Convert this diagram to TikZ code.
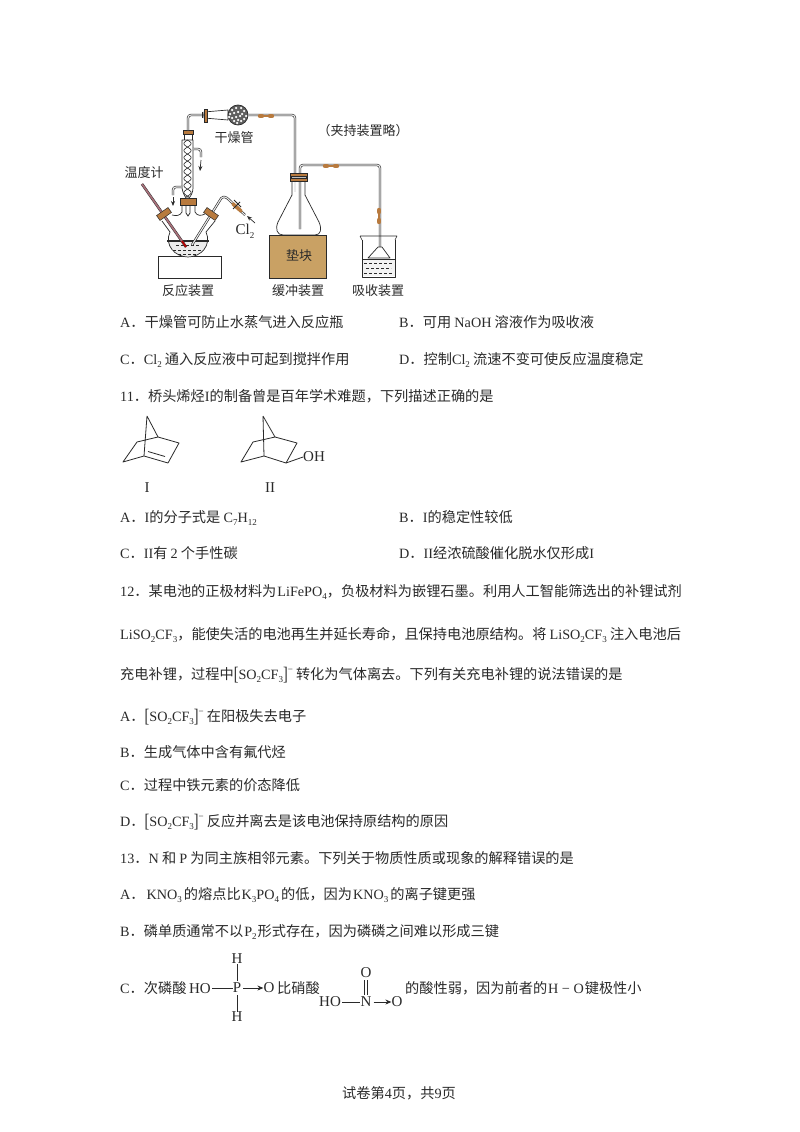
\documentclass[tikz,border=0pt]{standalone}
\usepackage{fontspec}
\setmainfont{Noto Sans CJK SC}
\newfontfamily\latf{Liberation Serif}
\newcommand{\lt}[1]{{\latf #1}}
\newcommand{\dn}[1]{\raisebox{-0.25em}{\fontsize{9}{9}\selectfont\latf #1}}
\newcommand{\upm}{\raisebox{0.45em}{\fontsize{9}{9}\selectfont\latf −}}
\newcommand{\sof}{{\latf \raisebox{-0.1em}{\scalebox{1}[1.35]{[}}SO\dn{2}CF\dn{3}\raisebox{-0.1em}{\scalebox{1}[1.35]{]}}}\upm}
\definecolor{ink}{HTML}{2A2A2A}
\definecolor{rubber}{HTML}{B87A3E}
\definecolor{blockc}{HTML}{C9A164}
\definecolor{thermo}{HTML}{A8707A}
\tikzset{
 x=1pt,y=-1pt,
 line/.style={anchor=base west,inner sep=0pt,font=\fontsize{14.2}{15}\selectfont,text=ink},
 lab/.style={anchor=center,inner sep=0pt,font=\fontsize{13}{14}\selectfont,text=ink},
 atom/.style={anchor=center,inner sep=0pt,font=\fontsize{15}{15}\selectfont\latf,text=ink},
 glass/.style={draw=ink,line width=0.7pt,line join=round},
 bond/.style={draw=ink,line width=0.8pt},
 tubeo/.style={draw=ink,line width=2.3pt,rounded corners=3pt},
 tubei/.style={draw=white!92!black,line width=1.1pt,rounded corners=3pt},
 rub/.style={draw=rubber,line width=4.4pt,line cap=round},
 stopper/.style={fill=rubber,draw=ink,line width=0.5pt},
 flowarrow/.style={draw=ink,line width=0.7pt,-{Stealth[length=5pt,width=4pt]}},
 datv/.style={draw=ink,line width=0.9pt,-{Stealth[length=6pt,width=5pt]}},
}
\usetikzlibrary{arrows.meta}
\begin{document}
\begin{tikzpicture}
\useasboundingbox[fill=white] (0,0) rectangle (800,1132);

% ---------- reaction flask ----------
\draw[bond] (158,256) rectangle (221,278);
\fill[gray!15] (168,241) -- (208,241) .. controls (205,250) and (198,257) .. (188,257) .. controls (178,257) and (171,250) .. (168,241) -- cycle;
\draw[glass] (182,203) -- (182,212) .. controls (180,216) and (176,216) .. (172,215)
  (162,221) -- (170,232)
  .. controls (164,245) and (175,257) .. (188,257)
  .. controls (201,257) and (212,245) .. (206,232)
  -- (215,221) (205,214) .. controls (201,216) and (197,216) .. (195,212) -- (195,203);
\draw[ink,line width=1.1pt] (167,241) -- (209,241);
\foreach \yy/\s in {245/3,250/0,254/5}{\draw[ink,line width=0.5pt,dash pattern=on 3pt off 2pt] (173+\s,\yy) -- (203-\s,\yy);}
% thermometer
\draw[draw=ink,line width=2.6pt] (142,184) -- (186,247);
\draw[draw=thermo,line width=1.7pt] (142,184) -- (186,247);
\draw[draw=red!70!black,line width=1.7pt] (182,241) -- (186,247);
\draw[stopper,rotate around={35:(164,214)}] (157,211) rectangle (171,217);
% center stopper and condenser tip
\draw[stopper] (180,198) rectangle (196,205);
\draw[ink,line width=0.7pt] (186,205) -- (186,213) -- (188,216) -- (190,213) -- (190,205);
% right neck tube
\draw[tubeo,rounded corners=1.5pt] (192,245) -- (222,197) -- (226,197) -- (245,215);
\draw[tubei,rounded corners=1.5pt] (192,245) -- (222,197) -- (226,197) -- (245,215);
\draw[stopper,rotate around={-35:(211,214)}] (204,211) rectangle (218,217);
\draw[rub,line width=3.6pt] (233,204) -- (241,211);
\draw[ink,line width=0.8pt] (234,200) -- (241,207) (233,209) -- (240,202);
\draw[flowarrow] (255,223) -- (247,216);

% ---------- condenser ----------
\draw[glass,fill=white] (182,140) -- (182,188) .. controls (183,194) and (185,196) .. (186,198) -- (189,198) .. controls (191,196) and (193,192) .. (193,188) -- (193,140) -- cycle;
\draw[ink,line width=0.6pt,samples=90,domain=140:197,smooth] plot ({187.5+3.6*sin(\x*25.7)},\x);
\draw[ink,line width=0.6pt,samples=90,domain=140:197,smooth] plot ({187.5-3.6*sin(\x*25.7)},\x);
\draw[tubeo] (193,149) -- (201,149) -- (201,157);
\draw[tubei] (193,149) -- (201,149) -- (201,157);
\draw[flowarrow] (201,160) -- (200,171);
\draw[tubeo] (182,187) -- (173,187) -- (173,195);
\draw[tubei] (182,187) -- (173,187) -- (173,195);
\draw[flowarrow] (173,197) -- (173,206);
\draw[stopper] (183,130) rectangle (193,134);
\draw[glass] (184,134) -- (184,140) (192,134) -- (192,140);

% ---------- drying tube and upper line ----------
\draw[tubeo] (188,130) -- (188,115) -- (204,115);
\draw[tubei] (188,130) -- (188,115) -- (204,115);
\draw[glass,fill=white] (204,112) -- (228,110) -- (228,120) -- (204,118) -- cycle;
\draw[stopper] (204,109) rectangle (207,122);
\draw[glass] (202,112) -- (202,118);
\draw[glass,fill=ink!75] (238,115) circle (10);
\foreach \a/\b in {232/110,236/108,241/108,244/111,230/114,234/113,238/112,242/114,246/116,232/118,236/117,240/116,244/119,234/121,238/120,241/121,237/123,229/117}{\fill[white] (\a,\b) circle (1.25);}
\draw[tubeo] (248,115) -- (295,115) -- (295,173);
\draw[tubei] (248,115) -- (295,115) -- (295,173);
\draw[rub] (260,116) -- (262,116) (270,116) -- (272,116);
\draw[rubber,line width=2.2pt] (262,116) -- (270,116);

% ---------- conical flask ----------
\draw[draw=ink,fill=blockc,line width=0.9pt] (269,235) rectangle (326,278);
\draw[glass] (292,181) -- (292,195) -- (278,222) .. controls (275,229) and (277,235) .. (283,235)
  -- (315,235) .. controls (321,235) and (322,229) .. (319,222) -- (305,195) -- (305,181);
\draw[tubeo] (295,173) -- (295,192);
\draw[tubei] (295,173) -- (295,192);
\draw[tubeo] (300,229) -- (300,165) -- (380,165) -- (380,247);
\draw[tubei] (300,229) -- (300,165) -- (380,165) -- (380,247);
\draw[stopper] (290,173) rectangle (307,181);
\draw[draw=ink,fill=gray!50,line width=0.5pt] (291,176) rectangle (306,178);
\draw[rub] (325,166) -- (327,166) (335,166) -- (337,166);
\draw[rubber,line width=2.2pt] (326,166) -- (336,166);
\draw[rub] (379,210) -- (379,212) (379,220) -- (379,222);
\draw[rubber,line width=2.2pt] (379,212) -- (379,220);

% ---------- beaker ----------
\fill[gray!10] (362,259) rectangle (395,276);
\draw[glass] (362,240) -- (362,277) -- (395,277) -- (395,240);
\draw[ink,line width=0.6pt] (360,236) -- (397,236) (360,236) -- (362,240) (397,236) -- (395,240);
\draw[ink,line width=0.7pt] (362,259) -- (395,259);
\foreach \yy/\s in {263/0,268/2,273/0}{\draw[ink,line width=0.5pt,dash pattern=on 3pt off 2pt] (364+\s,\yy) -- (393-\s,\yy);}
\draw[glass,fill=white] (378,247) -- (368,258) -- (390,258) -- (382,247) -- cycle;

% ---------- apparatus labels ----------
\node[lab] (ganzao) at (234,138) {干燥管};
\node[lab] (jiachi) at (363,131) {（夹持装置略）};
\node[lab] (wendu) at (144,173) {温度计};
\node[lab,font=\fontsize{15}{15}\selectfont\latf] (cl) at (245,231) {Cl\dn{2}};
\node[lab] (dian) at (299,256) {垫块};
\node[lab] (fanying) at (188,291) {反应装置};
\node[lab] (huanchong) at (298,291) {缓冲装置};
\node[lab] (xishou) at (378,291) {吸收装置};

% ---------- question text ----------
\node[line] (a10) at (120,327) {\lt{A}．干燥管可防止水蒸气进入反应瓶};
\node[line] (b10) at (399,327) {\lt{B}．可用 \lt{NaOH} 溶液作为吸收液};
\node[line] (c10) at (120,364) {\lt{C}．\lt{Cl\dn{2}} 通入反应液中可起到搅拌作用};
\node[line] (d10) at (399,364) {\lt{D}．控制\lt{Cl\dn{2}} 流速不变可使反应温度稳定};
\node[line] (q11) at (120,401) {\lt{11}．桥头烯烃\lt{I}的制备曾是百年学术难题，下列描述正确的是};

% ---------- structures I and II ----------
\coordinate (s1a) at (147,416); \coordinate (s1b) at (144,456); \coordinate (s1c) at (158,437);
\coordinate (s1d) at (123,462); \coordinate (s1e) at (137,442); \coordinate (s1f) at (168,463);
\coordinate (s1g) at (179,443);
\draw[bond,line join=round] (s1a) -- (s1b) -- (s1d) -- (s1e) -- (s1c) -- (s1a);
\draw[bond,line join=round] (s1b) -- (s1f) -- (s1g) -- (s1c);
\draw[bond] (148,451.5) -- (165,456.5);
\coordinate (s2a) at (263,416); \coordinate (s2b) at (264,456); \coordinate (s2c) at (275,437);
\coordinate (s2d) at (241,462); \coordinate (s2e) at (253,442); \coordinate (s2f) at (286,463);
\coordinate (s2g) at (297,443);
\draw[bond,line join=round] (s2a) -- (s2b) -- (s2d) -- (s2e) -- (s2c) -- (s2a);
\draw[bond,line join=round] (s2b) -- (s2f) -- (s2g) -- (s2c);
\node[atom,anchor=west] (oh) at (303,457) {OH};
\draw[bond] (s2f) -- (oh.west);
\node[atom] (lab1) at (147,488) {I};
\node[atom] (lab2) at (270,488) {II};

\node[line] (a11) at (120,522) {\lt{A}．\lt{I}的分子式是 \lt{C\dn{7}H\dn{12}}};
\node[line] (b11) at (399,522) {\lt{B}．\lt{I}的稳定性较低};
\node[line] (c11) at (120,558) {\lt{C}．\lt{II}有 \lt{2} 个手性碳};
\node[line] (d11) at (399,558) {\lt{D}．\lt{II}经浓硫酸催化脱水仅形成\lt{I}};

\node[line] (q12a) at (120,596) {\lt{12}．某电池的正极材料为\hspace{1pt}\lt{LiFePO\dn{4}}，负极材料为嵌锂石墨。利用人工智能筛选出的补锂试剂};
\node[line] (q12b) at (120,639) {\lt{LiSO\dn{2}CF\dn{3}}，能使失活的电池再生并延长寿命，且保持电池原结构。将 \lt{LiSO\dn{2}CF\dn{3}} 注入电池后};
\node[line] (q12c) at (120,679) {充电补锂，过程中\sof{} 转化为气体离去。下列有关充电补锂的说法错误的是};
\node[line] (a12) at (120,721) {\lt{A}．\sof{} 在阳极失去电子};
\node[line] (b12) at (120,757) {\lt{B}．生成气体中含有氟代烃};
\node[line] (c12) at (120,790) {\lt{C}．过程中铁元素的价态降低};
\node[line] (d12) at (120,826) {\lt{D}．\sof{} 反应并离去是该电池保持原结构的原因};
\node[line] (q13) at (120,863) {\lt{13}．\lt{N} 和 \lt{P} 为同主族相邻元素。下列关于物质性质或现象的解释错误的是};
\node[line] (a13) at (120,899) {\lt{A}．\hspace{2pt}\lt{KNO\dn{3}}\hspace{2pt}的熔点比\hspace{1pt}\lt{K\dn{3}PO\dn{4}}\hspace{2pt}的低，因为\hspace{1pt}\lt{KNO\dn{3}}\hspace{2pt}的离子键更强};
\node[line] (b13) at (120,936) {\lt{B}．磷单质通常不以\hspace{1pt}\lt{P\dn{2}}\hspace{1pt}形式存在，因为磷磷之间难以形成三键};

% ---------- last row with formulae ----------
\node[line] (c13a) at (120,993) {\lt{C}．次磷酸};
\node[atom] (ho1) at (200,989) {HO};
\node[atom] (p1) at (237,988) {P};
\node[atom] (h1) at (237,959) {H};
\node[atom] (h2) at (237,1017) {H};
\node[atom] (o1) at (269,988) {O};
\draw[bond] (ho1.east) ++(1,-1) -- (p1.west);
\draw[bond] (p1) ++(0,-7) -- (h1.south);
\draw[bond] (p1) ++(0,7) -- (h2.north);
\draw[datv] (p1.east) ++(2,0) -- (o1.west);
\node[line] (c13b) at (277,993) {比硝酸};
\node[atom] (ho2) at (330,1002) {HO};
\node[atom] (n2) at (366,1002) {N};
\node[atom] (o2) at (397,1002) {O};
\node[atom] (o3) at (366,973) {O};
\draw[bond] (ho2.east) ++(1,0) -- (n2.west);
\draw[bond] (364.8,995) -- (364.8,979.5) (367.2,995) -- (367.2,979.5);
\draw[datv] (n2.east) ++(2,0) -- (o2.west);
\node[line] (c13c) at (405,993) {的酸性弱，因为前者的\hspace{1pt}\lt{H − O}\hspace{1pt}键极性小};

\node[line,anchor=base] (foot) at (399,1098) {试卷第\lt{4}页，共\lt{9}页};
\end{tikzpicture}
\end{document}
